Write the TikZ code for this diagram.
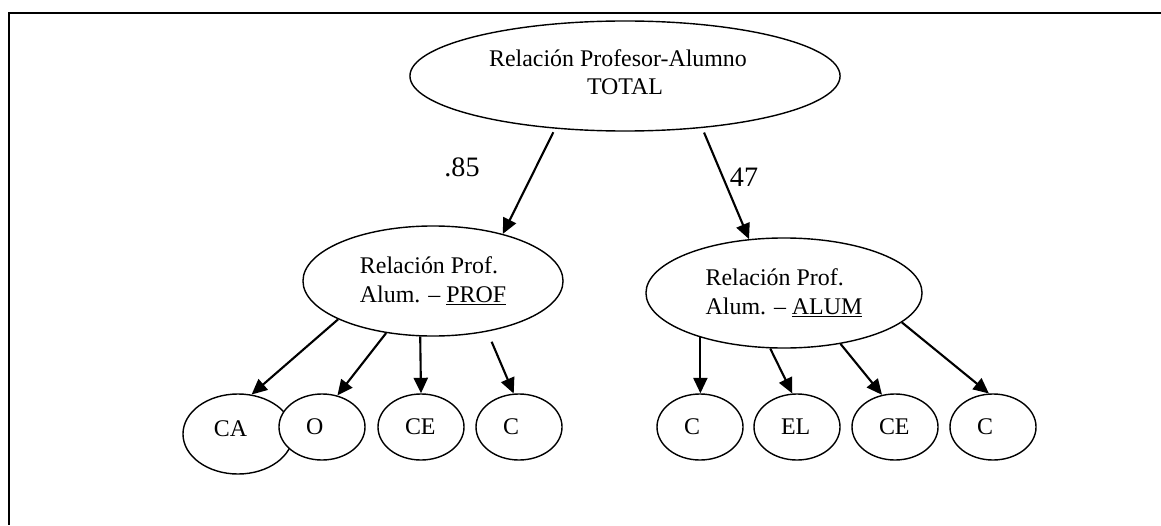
\documentclass[tikz,border=0pt]{standalone}
\usepackage{fontspec}
\setmainfont{Liberation Serif}
\usepackage{tikz}
\usetikzlibrary{shapes.geometric,arrows.meta}

\tikzset{
  oval/.style={draw, ellipse, line width=1pt, inner sep=0pt, fill=white,
    font=\fontsize{17}{20.5}\selectfont},
  leaf/.style={oval, minimum width=2.15cm, minimum height=1.65cm,
    text width=0.8cm, align=left},
  link/.style={-{Triangle[length=11pt,width=10pt]}, line width=1.5pt},
  weight/.style={font=\fontsize{20}{24}\selectfont},
}

\begin{document}
\begin{tikzpicture}[x=0.025cm, y=-0.025cm]
    \useasboundingbox (0,0) rectangle (1161,525);
    % Frame (top and left sides)
    \draw[line width=1.4pt] (1161,13) -- (9,13) -- (9,525);

    % Total relation
    \node[oval, minimum width=10.75cm, minimum height=2.75cm, align=center] (total) at (625,76)
        {Relación Profesor-Alumno\hspace*{10pt}\\TOTAL\hspace*{10pt}\\[-15pt]\mbox{}};

    % Two sub-relations
    \node[oval, minimum width=6.5cm, minimum height=2.75cm, align=left] (prof) at (433,281)
        {Relación Prof.\\Alum. – \underline{PROF}};
    \node[oval, minimum width=6.9cm, minimum height=2.75cm, align=left] (alum) at (784,293)
        {Relación Prof.\\Alum. – \underline{ALUM}};

    \draw[link, shorten <=2.8pt] (total.-143) -- (prof.34);
    \draw[link, shorten <=3.5pt] (total.-34) -- (alum.123);
    \node[weight] (wprof) at (462,167) {.85};
    \node[weight] (walum) at (744,177) {47};

    % Factors under PROF (CA first, O lies over it)
    \node[leaf, minimum width=2.75cm, minimum height=2cm, text width=1.2cm] (pca) at (238,434)
        {CA\\[-13.5pt]\mbox{}};
    \foreach \name/\x/\txt in {po/322/O, pce/421/CE, pc/519/C} {
        \node[leaf] (\name) at (\x,427) {\txt};
    }
    \foreach \to/\a/\b in {pca/-158/71, po/-132/64, pce/-103/90} {
        \draw[link] (prof.\a) -- (\to.\b);
    }
    \draw[link, shorten <=7.8pt] (prof.-43) -- (pc.99);

    % Factors under ALUM
    \foreach \name/\x/\txt in {ac/700/C, ael/797/EL, ace/895/CE, acc/993/C} {
        \node[leaf] (\name) at (\x,427) {\txt};
    }
    \draw[link] (alum.-152) -- (alum.-152 |- ac.north);
    \foreach \to/\a/\b in {ael/-104/98, ace/-42/112, acc/-14/97} {
        \draw[link] (alum.\a) -- (\to.\b);
    }
\end{tikzpicture}
\end{document}
